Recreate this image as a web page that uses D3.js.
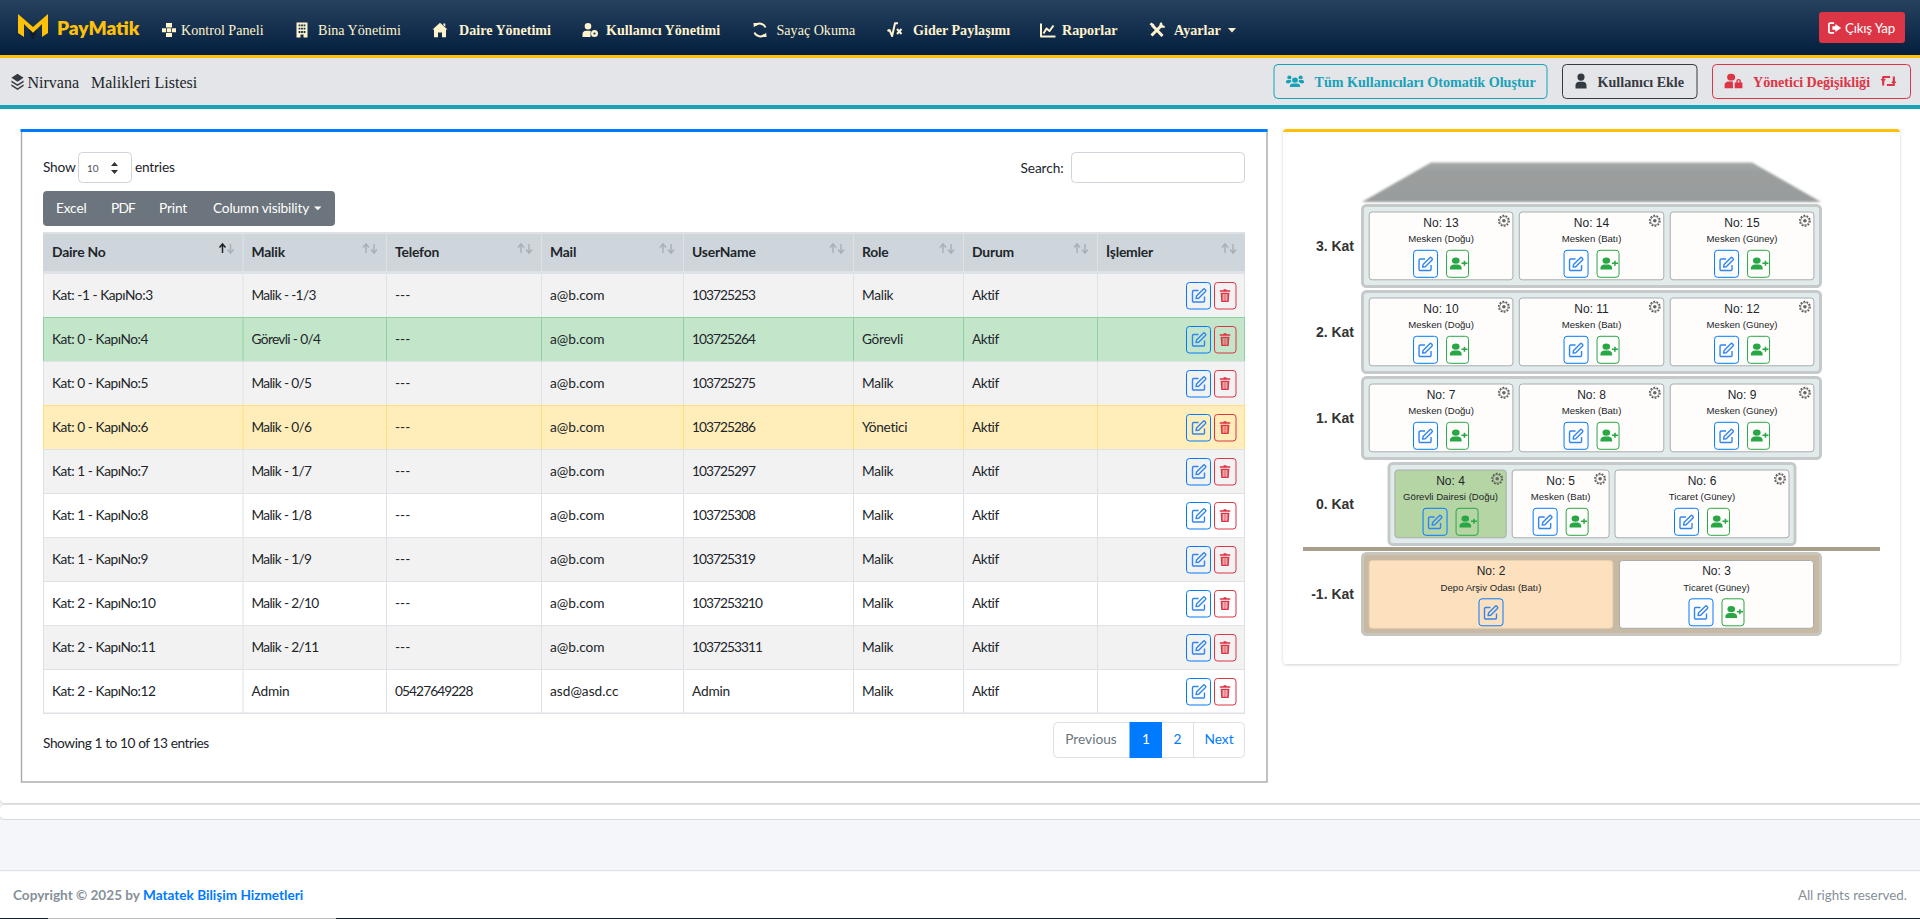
<!DOCTYPE html>
<html lang="tr">
<head>
<meta charset="utf-8">
<title>PayMatik</title>
<script src="https://cdnjs.cloudflare.com/ajax/libs/d3/7.8.5/d3.min.js"></script>
<style>
html,body{margin:0;padding:0;background:#f4f6f9;overflow:hidden}
svg{display:block}
.sans{font-family:Lato,"Noto Sans",sans-serif}
.serif{font-family:"Liberation Serif",serif}
.arial{font-family:"Liberation Sans",Arial,sans-serif}
</style>
</head>
<body>
<div id="page"></div>
<script>
// table data
var columns = ["Daire No","Malik","Telefon","Mail","UserName","Role","Durum","İşlemler"];
var daireNo = ["Kat: -1 - KapıNo:3","Kat: 0 - KapıNo:4","Kat: 0 - KapıNo:5","Kat: 0 - KapıNo:6","Kat: 1 - KapıNo:7","Kat: 1 - KapıNo:8","Kat: 1 - KapıNo:9","Kat: 2 - KapıNo:10","Kat: 2 - KapıNo:11","Kat: 2 - KapıNo:12"];
var malik = ["Malik - -1/3","Görevli - 0/4","Malik - 0/5","Malik - 0/6","Malik - 1/7","Malik - 1/8","Malik - 1/9","Malik - 2/10","Malik - 2/11","Admin"];
var telefon = ["---","---","---","---","---","---","---","---","---","05427649228"];
var mail = ["a@b.com","a@b.com","a@b.com","a@b.com","a@b.com","a@b.com","a@b.com","a@b.com","a@b.com","asd@asd.cc"];
var userName = ["103725253","103725264","103725275","103725286","103725297","103725308","103725319","1037253210","1037253311","Admin"];
var role = ["Malik","Görevli","Malik","Yönetici","Malik","Malik","Malik","Malik","Malik","Malik"];
var durum = ["Aktif","Aktif","Aktif","Aktif","Aktif","Aktif","Aktif","Aktif","Aktif","Aktif"];

// building data
var floors = ["3. Kat","2. Kat","1. Kat","0. Kat","-1. Kat"];
var aptFloor = [0,0,0,1,1,1,2,2,2,3,3,3,4,4];
var aptNo = [13,14,15,10,11,12,7,8,9,4,5,6,2,3];
var aptType = ["Mesken (Doğu)","Mesken (Batı)","Mesken (Güney)","Mesken (Doğu)","Mesken (Batı)","Mesken (Güney)","Mesken (Doğu)","Mesken (Batı)","Mesken (Güney)","Görevli Dairesi (Doğu)","Mesken (Batı)","Ticaret (Güney)","Depo Arşiv Odası (Batı)","Ticaret (Güney)"];
var navItems = ["Kontrol Paneli","Bina Yönetimi","Daire Yönetimi","Kullanıcı Yönetimi","Sayaç Okuma","Gider Paylaşımı","Raporlar","Ayarlar"];
var navBold = [0,0,1,1,0,1,1,1];

var W = 1920, H = 919;
var svg = d3.select("#page").append("svg").attr("width",W).attr("height",H).attr("viewBox","0 0 "+W+" "+H);
var defs = svg.append("defs");
var grad = defs.append("linearGradient").attr("id","navg").attr("x1",0).attr("y1",0).attr("x2",0).attr("y2",1);
grad.append("stop").attr("offset",0).attr("stop-color","#27425f");
grad.append("stop").attr("offset",1).attr("stop-color","#031f3e");
var roofg = defs.append("linearGradient").attr("id","roofg").attr("x1",0).attr("y1",0).attr("x2",0).attr("y2",1);
roofg.append("stop").attr("offset",0).attr("stop-color","#a5a8a8");
roofg.append("stop").attr("offset",.25).attr("stop-color","#9b9e9e");
roofg.append("stop").attr("offset",1).attr("stop-color","#999c9c");
defs.append("filter").attr("id","soft").append("feGaussianBlur").attr("stdDeviation",1.2);
var sh = defs.append("filter").attr("id","shadow").attr("x","-5%").attr("y","-5%").attr("width","110%").attr("height","110%");
sh.append("feDropShadow").attr("dx",0).attr("dy",1).attr("stdDeviation",1.5).attr("flood-color","#000").attr("flood-opacity",.18);

function rect(p,x,y,w,h,fill,stroke,r,sw){
  return p.append("rect").attr("x",x).attr("y",y).attr("width",w).attr("height",h).attr("fill",fill||"none")
    .attr("stroke",stroke||"none").attr("stroke-width",sw||1).attr("rx",r||0);
}
function text(p,x,y,s,cls,size,color,weight,anchor,spacing){
  return p.append("text").attr("x",x).attr("y",y).attr("class",cls).attr("font-size",size).attr("fill",color)
    .attr("font-weight",weight||400).attr("text-anchor",anchor||"start").attr("dominant-baseline","central")
    .attr("letter-spacing",spacing||0).text(s);
}

// icons, all in a 16x16 box
var icons = {
  edit:[["M13.5 9v4.3a1.2 1.2 0 0 1-1.2 1.2H2.7a1.2 1.2 0 0 1-1.2-1.2V4.2A1.2 1.2 0 0 1 2.7 3H7.5",0],["M5.5 8.5L12.3 1.7a1 1 0 0 1 1.4 0l.8.8a1 1 0 0 1 0 1.4L7.7 10.7l-2.6.4z",0]],
  trash:[["M2 2.5h4l.6-1.2h2.8l.6 1.2h4v1.6H2z",1],["M3 5h10l-.7 10H3.7zM5.4 6.5v7h1v-7zM7.5 6.5v7h1v-7zM9.6 6.5v7h1v-7z",1]],
  useradd:[["M6 1.5a3.4 3.4 0 1 1 0 6.8a3.4 3.4 0 1 1 0-6.8zM0.8 14.5v-1.8c0-2.2 1.8-3.6 3.6-3.6h3.2c1.8 0 3.6 1.4 3.6 3.6v1.8z",1],["M13 5v2H11v1.4h2v2h1.4v-2h2V7h-2V5z",1]],
  user:[["M8 .5a3.6 3.6 0 1 1 0 7.2a3.6 3.6 0 1 1 0-7.2zM2.5 15.5v-3.2c0-2 1.6-3.6 3.6-3.6h3.8c2 0 3.6 1.6 3.6 3.6v3.2z",1]],
  users:[["M8 4.5a2.6 2.6 0 1 1 0 5.2a2.6 2.6 0 1 1 0-5.2zM3.5 14v-1.2c0-1.4 1.2-2.4 2.4-2.4h4.2c1.2 0 2.4 1 2.4 2.4V14zM3 2.5a1.9 1.9 0 1 1 0 3.8a1.9 1.9 0 1 1 0-3.8zM13 2.5a1.9 1.9 0 1 1 0 3.8a1.9 1.9 0 1 1 0-3.8zM0 10V8.5c0-.9.8-1.5 1.6-1.5h2.6L5 9c-1.2.3-2 .9-2.4 1.6zM16 10V8.5c0-.9-.8-1.5-1.6-1.5h-2.6L11 9c1.2.3 2 .9 2.4 1.6z",1]],
  userlock:[["M6 .8a3.4 3.4 0 1 1 0 6.8a3.4 3.4 0 1 1 0-6.8zM.5 15.3v-3.4c0-2 1.6-3.3 3.3-3.3h3.6L7.6 15.3z",1],["M9 9.5h6.5v5.8H9zM10.4 9.5V8a1.9 1.9 0 0 1 3.8 0v1.5H13V8a.7.7 0 0 0-1.4 0v1.5z",1]],
  retweet:[["M3 12.5V4h6.5",2],["M13 3.5V12H6.5",2],["M.5 6L3 9.5 5.5 6zM10.5 10L13 6.5 15.5 10z",1]],
  home:[["M8 .8L15.5 7.5H14V15.3H10V10.5H6V15.3H2V7.5H.5zM11.3 1.5h2v3.3l-2-1.8z",1]],
  building:[["M2.5 .5h11v15h-11zM4.6 2.5v1.8h1.8V2.5zM7.1 2.5v1.8h1.8V2.5zM9.6 2.5v1.8h1.8V2.5zM4.6 5.8v1.8h1.8V5.8zM7.1 5.8v1.8h1.8V5.8zM9.6 5.8v1.8h1.8V5.8zM4.6 9.1v1.8h1.8V9.1zM7.1 9.1v1.8h1.8V9.1zM9.6 9.1v1.8h1.8V9.1zM6.5 12.4v3.1h3v-3.1z",1]],
  dash:[["M5 1h6v4.5H5zM1 6.2h4.2v4H1zM6 6.2h4v4H6zM10.8 6.2H15v4h-4.2zM5 11h6v4H5z",1]],
  usercog:[["M6 1a3.3 3.3 0 1 1 0 6.6a3.3 3.3 0 1 1 0-6.6zM.5 15v-3c0-1.9 1.5-3.3 3.3-3.3h3.4c.6 0 1.1.1 1.5.4L8.5 15z",1],["M12.5 8a3.5 3.5 0 1 1 0 7a3.5 3.5 0 1 1 0-7zM12.5 10.4a1.1 1.1 0 1 0 0 2.2a1.1 1.1 0 1 0 0-2.2z",1]],
  sync:[["M13.5 5.5A6.2 6.2 0 0 0 3.2 3.6M2.5 10.5A6.2 6.2 0 0 0 12.8 12.4",2],["M1.5 1L5.5 1L1.8 5.5zM14.5 15L10.5 15L14.2 10.5z",1]],
  sqrt:[["M.5 9l2-1 2.6 6L8 1.2H11",2],["M10 7l4.5 5M14.5 7L10 12",2]],
  chart:[["M1 1.5V14.5H15.5",2],["M3.5 11.5L6.5 6.5L9.5 9L13.5 3.5",2]],
  tools:[["M3 3L13.5 14",3],["M13 3L2.5 13.5",3],["M11 .8l2-.3.6 2.8 2.2.6-.2 2.2-3.5-.6-1.8-1.8zM.5 2.3L2.5.5l3 2.2-1.8 2z",1]],
  signout:[["M7 2.5H2.2A1.2 1.2 0 0 0 1 3.7v8.6a1.2 1.2 0 0 0 1.2 1.2H7",2],["M8.5 3.5L15 8l-6.5 4.5V10H5V6h3.5z",1]],
  layers:[["M8 .8L14.5 4.5 8 8.2 1.5 4.5zM1.5 7L8 10.6 14.5 7 14.5 8.6 8 12.2 1.5 8.6zM1.5 10.7L8 14.3 14.5 10.7V12.3L8 15.9 1.5 12.3z",1]]
};
function icon(p,name,x,y,w,h,color){
  var g = p.append("g").attr("transform","translate("+x+","+y+") scale("+(w/16)+","+(h/16)+")");
  icons[name].forEach(function(d){
    var path = g.append("path").attr("d",d[0]).attr("fill-rule","evenodd");
    if(d[1]==1) path.attr("fill",color);
    else path.attr("fill","none").attr("stroke",color).attr("stroke-width",d[1]==0?1.4:d[1]).attr("stroke-linejoin","round");
  });
}
function gear(p,cx,cy){
  p.append("circle").attr("cx",cx).attr("cy",cy).attr("r",5.2).attr("fill","none").attr("stroke","#555").attr("stroke-width",1.5).attr("stroke-dasharray","1.8 1.4");
  p.append("circle").attr("cx",cx).attr("cy",cy).attr("r",4.2).attr("fill","none").attr("stroke","#666").attr("stroke-width",.8);
  p.append("circle").attr("cx",cx).attr("cy",cy).attr("r",1.8).attr("fill","#666");
}

// page backgrounds
rect(svg,0,0,W,H,"#f4f6f9");
rect(svg,0,100,W+10,703,"#fff",null,5).attr("filter","url(#shadow)");
rect(svg,0,805,W+10,14,"#fff",null,5).attr("filter","url(#shadow)");
rect(svg,0,870,W,49,"#fff");
rect(svg,0,870,W,1.2,"#dee2e6");
rect(svg,0,918,W,1,"#14202b");
rect(svg,48,918,288,1,"#bbb");

// navbar
rect(svg,0,0,W,55,"url(#navg)");
rect(svg,0,55,W,3,"#ffc107");
svg.append("path").attr("d","M18 14L33 27L48 14V33L42 37V24L33 33L24 24V37L18 33Z").attr("fill","#ffc107");
svg.append("path").attr("d","M29 29L33 33L37 29L34 39H32Z").attr("fill","#111c26");
text(svg,57,27.5,"PayMatik","sans",19,"#ffc107",800);

var navIconName = ["dash","building","home","usercog","sync","sqrt","chart","tools"];
var navScale = d3.scaleOrdinal(navItems,[181,318,459,606,776.5,913,1062,1174]);
var navIconX = d3.scaleOrdinal(navItems,[161,294,432,582,752,887,1040,1149]);
navItems.forEach(function(n,i){
  icon(svg,navIconName[i],navIconX(n),22,16,16,"#fff3cd");
  text(svg,navScale(n),30,n,"serif",14.1,"#fff3cd",navBold[i]?700:400);
});
svg.append("path").attr("d","M1228 28h8l-4 4.5z").attr("fill","#fff3cd");
rect(svg,1819,12,86,31,"#dc3545",null,3);
icon(svg,"signout",1828,21,14,14,"#fff");
text(svg,1845,27.5,"Çıkış Yap","sans",13.4,"#fff",400,"start",-.2);

// sub header
rect(svg,0,58,W,47,"#e4e5e8");
rect(svg,0,105,W,4,"#17a2b8");
icon(svg,"layers",10,73,15,17,"#343a40");
text(svg,27.5,82,"Nirvana","serif",16,"#212529");
text(svg,91,82,"Malikleri Listesi","serif",16,"#212529");

function topBtn(x,w,color,label,lx,ic,ix,iw){
  rect(svg,x+.5,64.5,w,34,"none",color,4);
  icon(svg,ic,ix,73,iw,16,color);
  text(svg,lx,81.5,label,"serif",14.1,color,700);
}
topBtn(1273.5,273,"#17a2b8","Tüm Kullanıcıları Otomatik Oluştur",1314.5,"users",1286,18);
topBtn(1562,134.5,"#343a40","Kullanıcı Ekle",1597.5,"user",1573,16);
topBtn(1712,198,"#dc3545","Yönetici Değişikliği",1753,"userlock",1724,19);
icon(svg,"retweet",1880,73,17,16,"#dc3545");

// left card
rect(svg,21.5,130,1245.5,652,"#fff","#a8a8a8",0,1.4);
rect(svg,20.5,129,1247,3,"#007bff");

text(svg,43,166,"Show","sans",13.7,"#212529",400,"start",-.2);
rect(svg,78.5,152.5,53,30,"#fff","#ced4da",4);
text(svg,87,167.5,"10","sans",10,"#495057");
svg.append("path").attr("d","M111 166l3.5-4 3.5 4zM111 170l3.5 4 3.5-4z").attr("fill","#333");
text(svg,135,166,"entries","sans",13.7,"#212529",400,"start",-.2);
text(svg,1020.5,167.7,"Search:","sans",13.7,"#212529",400,"start",-.1);
rect(svg,1071.5,152.5,173,30,"#fff","#ced4da",4);

rect(svg,43,191,292,35,"#6c757d",null,4);
var btnLabels = ["Excel","PDF","Print","Column visibility"];
var btnX = d3.scaleOrdinal(btnLabels,[56,111,159,213]);
btnLabels.forEach(function(b){ text(svg,btnX(b),207,b,"sans",13.7,"#fff",400,"start",b=="PDF"?-.8:-.15); });
svg.append("path").attr("d","M314 206.5h7.5l-3.75 3.8z").attr("fill","#fff");

// table
var colEdges = [43,242.5,386,541,683,853,963,1097,1245];
var colX = d3.scaleOrdinal(columns,colEdges.slice(0,8));
var rowIndex = d3.range(daireNo.length);
var rowY = d3.scaleBand().domain(rowIndex).range([273,713]);
var cellValues = [daireNo,malik,telefon,mail,userName,role,durum];
var cellSpacing = [-.45,-.65,-.9,0,-.95,-.3,-.5];
function rowFill(i){ return i==1?"#c3e6cb":i==3?"#ffeeba":(i%2==0?"#f2f2f2":"#fff"); }
function rowLine(i){ return i==1?"#8fd19e":i==3?"#ffdf7e":"#dee2e6"; }

rect(svg,43,232,1202,41,"#dee2e6");
rect(svg,43,234,1202,37,"#ced6dc");
svg.selectAll(".rowbg").data(rowIndex).enter().append("rect").attr("class","rowbg")
  .attr("x",43.5).attr("y",function(i){return rowY(i)+.5;}).attr("width",1201).attr("height",rowY.bandwidth())
  .attr("fill",rowFill).attr("stroke",rowLine);
// column rules
colEdges.slice(1,8).forEach(function(x){
  rect(svg,x,234,1,37,"#dee2e6");
  rowIndex.forEach(function(i){ rect(svg,x,rowY(i),1,44,rowLine(i)); });
});
rect(svg,43,712.5,1202,1.5,"#dee2e6");

columns.forEach(function(c,k){
  var x = colX(c);
  text(svg,x+9,251.7,c,"sans",13.9,"#212529",700,"start",-.2);
  var right = colEdges[k+1]-8;
  var g = svg.append("g");
  g.append("path").attr("d","M"+(right-12)+" 253v-8.5M"+(right-15)+" 247.5l3-3.5 3 3.5").attr("fill","none").attr("stroke",k==0?"#222":"#a9b0b5").attr("stroke-width",1.5);
  g.append("path").attr("d","M"+(right-4)+" 244v8.5M"+(right-7)+" 249.5l3 3.5 3-3.5").attr("fill","none").attr("stroke","#a9b0b5").attr("stroke-width",1.5);
});
cellValues.forEach(function(vals,k){
  svg.selectAll(".c"+k).data(vals).enter().append("text").attr("class","sans c"+k)
    .attr("x",colX(columns[k])+9).attr("y",function(d,i){return rowY(i)+21;})
    .attr("dominant-baseline","central").attr("font-size",13.7).attr("fill","#212529")
    .attr("letter-spacing",function(d){ return d=="Admin"?-.2:d=="---"?0:cellSpacing[k]; }).text(function(d){return d;});
});
rowIndex.forEach(function(i){
  var y = rowY(i);
  rect(svg,1186.5,y+9.5,24,26.5,"none","#007bff",3);
  icon(svg,"edit",1191,y+14.5,16,16,"#2f86f2");
  rect(svg,1214.5,y+9.5,21.5,26.5,"none","#dc3545",3);
  icon(svg,"trash",1218,y+15,14,15,"#dc3545");
});

text(svg,43,742,"Showing 1 to 10 of 13 entries","sans",13.7,"#212529",400,"start",-.42);
rect(svg,1053.5,722.5,191,35,"#fff","#dee2e6",4);
rect(svg,1129.5,722,32.5,36,"#007bff");
rect(svg,1193,723,1,34,"#dee2e6");
text(svg,1091,738.5,"Previous","sans",13.7,"#6c757d",400,"middle");
text(svg,1146,738.5,"1","sans",13.7,"#fff",400,"middle");
text(svg,1177.5,738.5,"2","sans",13.7,"#007bff",400,"middle");
text(svg,1219,738.5,"Next","sans",13.7,"#007bff",400,"middle");

// footer
var foot = text(svg,13,894.5,"Copyright © 2025 by ","sans",13.6,"#869099",700);
foot.append("tspan").attr("fill","#007bff").text("Matatek Bilişim Hizmetleri");
text(svg,1907,894.5,"All rights reserved.","sans",13.4,"#869099",400,"end");

// right card, building
rect(svg,1283,129,617,535,"#fff",null,4).attr("filter","url(#shadow)");
svg.append("path").attr("d","M1283 132v-.5a3 3 0 0 1 3-2.5h611a3 3 0 0 1 3 2.5v.5z").attr("fill","#ffc107");
svg.append("path").attr("d","M1431 162.5H1752L1821 202H1362Z").attr("fill","url(#roofg)").attr("filter","url(#soft)");

var floorY = d3.scaleOrdinal(floors,[204,290,376,462,552]);
var floorBox = d3.scaleOrdinal(floors,[[1361,461],[1361,461],[1361,461],[1387.5,409],[1361,461]]);
floors.forEach(function(f,i){
  var b = floorBox(f), y = floorY(f), low = i==4;
  rect(svg,b[0]+1.5,y+1.5,b[1]-3,81,low?"#c7b9a3":"#e1ebeb",low?"#c8c5bd":"#c5c9ca",4,3);
  text(svg,1354,y+42,f,"arial",14,"#333",700,"end");
});
rect(svg,1303,547,577,4,"#a89f8a");

var aptSpan = d3.scaleOrdinal(aptNo,[[1368.7,144.7],[1518.8,145.5],[1669.7,144.7],[1368.7,144.7],[1518.8,145.5],[1669.7,144.7],[1368.7,144.7],[1518.8,145.5],[1669.7,144.7],[1394.4,112.3],[1511.7,97.9],[1614.5,175],[1368.7,244.6],[1619,195]]);
aptNo.forEach(function(no,i){
  var f = floors[aptFloor[i]], s = aptSpan(no), x = s[0], w = s[1];
  var y = floorY(f)+(aptFloor[i]==4?8:7.5), cx = x+w/2;
  var bg = no==4?"#b6d5a4":no==2?"#fde0bd":"#fefdfc";
  var g = svg.append("g");
  rect(g,x+.5,y+.5,w-1,67.8,bg,no==2?"#e8cfae":"#a9acad",3);
  text(g,cx,y+11.2,"No: "+no,"arial",12,"#212529",400,"middle");
  text(g,cx,y+27.2,aptType[i],"arial",9.6,"#212529",400,"middle");
  if(no!=2 && no!=3) gear(g,x+w-9.5,y+9.3);
  var btnW = no==2?25:56;
  var ex = cx-btnW/2;
  rect(g,ex+.5,y+38.8,24,27,"none","#007bff",3);
  icon(g,"edit",ex+4.5,y+44.5,16,16,"#2f86f2");
  if(no!=2){
    rect(g,ex+33.5,y+38.8,22,27,"none","#28a745",3);
    icon(g,"useradd",ex+36,y+44.5,18,15,"#28a745");
  }
});
</script>
</body>
</html>
